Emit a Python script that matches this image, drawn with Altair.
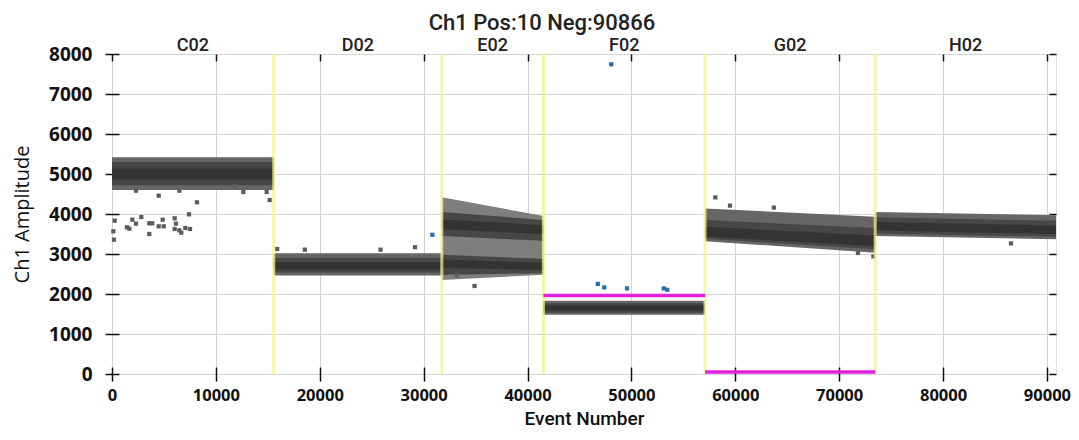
import altair as alt
import pandas as pd

# ---------------- data ----------------
wells = ["C02", "D02", "E02", "F02", "G02", "H02"]
well_start = [0, 15570, 31750, 41530, 57090, 73470]
well_end = [15570, 31750, 41530, 57090, 73470, 90876]
x_max = 90876

# droplet cluster bands: well, shading tier, amplitude low/high at start and end of well
band_well = ["C02", "C02", "C02",
             "D02", "D02", "D02",
             "E02", "E02", "E02", "E02", "E02",
             "F02", "F02", "F02",
             "G02", "G02", "G02",
             "H02", "H02", "H02"]
band_tier = ["outer", "mid", "core",
             "outer", "mid", "core",
             "sparse", "mid", "core", "mid", "core",
             "outer", "mid", "core",
             "outer", "mid", "core",
             "outer", "mid", "core"]
band_lo_start = [4600, 4720, 4860, 2460, 2540, 2610, 2350, 3450, 3620, 2480, 2650,
                 1480, 1530, 1590, 3320, 3380, 3430, 3450, 3510, 3590]
band_lo_end = [4600, 4720, 4860, 2460, 2540, 2610, 2480, 3330, 3500, 2520, 2600,
               1480, 1530, 1590, 3030, 3120, 3200, 3370, 3430, 3500]
band_hi_start = [5420, 5300, 5140, 3020, 2900, 2800, 4420, 4050, 3860, 2980, 2860,
                 1830, 1770, 1720, 4140, 3850, 3680, 4050, 3920, 3800]
band_hi_end = [5420, 5300, 5140, 3020, 2900, 2800, 3950, 3850, 3720, 2880, 2780,
               1830, 1770, 1720, 3930, 3650, 3460, 3970, 3830, 3710]

# negative outlier droplets (gray)
gray_x = [2310, 4495, 6480, 8180, 11840, 12640, 14890, 15180, 260, 130, 190, 1960, 2310,
          2820, 1440, 1670, 3590, 3880, 3590, 4495, 4880, 4980, 6030, 6160, 6030, 6480,
          6670, 7060, 7510, 7410, 15900, 18560, 25850, 29170, 33200, 34900, 58080,
          59490, 63710, 71810, 73300, 86540]
gray_y = [4583, 4458, 4583, 4292, 4692, 4550, 4550, 4350, 3833, 3567, 3358, 3858, 3758,
          3925, 3667, 3633, 3767, 3767, 3500, 3692, 3858, 3692, 3892, 3758, 3625, 3592,
          3533, 3650, 3625, 3992, 3125, 3108, 3108, 3170, 2470, 2200, 4415,
          4210, 4160, 3025, 2940, 3265]

# positive droplets (blue)
blue_x = [30840, 46770, 47390, 49580, 53120, 53450, 48060]
blue_y = [3480, 2253, 2165, 2140, 2140, 2105, 7742]

# thresholds
thr_well = ["F02", "G02"]
thr_amp = [1960, 50]

tier_names = ["sparse", "outer", "mid", "core"]
tier_colors = ["#7e7e7e", "#666666", "#474747", "#333333"]

# ---------------- tables ----------------
wdf = pd.DataFrame({"well": wells, "start": well_start, "end": well_end})
start_of = dict(zip(wells, well_start))
end_of = dict(zip(wells, well_end))

rows = []
for i, w in enumerate(band_well):
    rows.append({"band": i, "tier": band_tier[i], "x": start_of[w],
                 "lo": band_lo_start[i], "hi": band_hi_start[i]})
    rows.append({"band": i, "tier": band_tier[i], "x": end_of[w],
                 "lo": band_lo_end[i], "hi": band_hi_end[i]})
bdf = pd.DataFrame(rows)

gdf = pd.DataFrame({"x": gray_x, "y": gray_y})
pdf = pd.DataFrame({"x": blue_x, "y": blue_y})
tdf = pd.DataFrame({"well": thr_well, "amp": thr_amp,
                    "start": [start_of[w] for w in thr_well],
                    "end": [end_of[w] for w in thr_well]})
ydf = pd.DataFrame({"b": well_start[1:]})

xs = alt.Scale(domain=[0, x_max], nice=False, zero=False)
ys = alt.Scale(domain=[0, 8000], nice=False)

xticks = list(range(0, 90001, 10000))
yticks = list(range(0, 8001, 1000))

x_main = alt.Axis(values=xticks, format="d", grid=True, gridColor="#d3d3d3", gridWidth=1,
                  domain=False, ticks=True, tickColor="#111111", tickSize=14, tickWidth=1.5,
                  offset=-7, labelFont="Open Sans", labelFontSize=16.5, labelFontWeight="bold",
                  labelColor="#111111", labelPadding=6, labelOverlap=False, labelFlush=False,
                  title="Event Number", titleFont="Roboto", titleFontSize=19,
                  titleFontWeight=500, titleColor="#111111", titleBaseline="alphabetic",
                  titleY=57)
y_main = alt.Axis(values=yticks, format="d", grid=True, gridColor="#d3d3d3", gridWidth=1,
                  domain=False, ticks=True, tickColor="#111111", tickSize=14, tickWidth=1.5,
                  offset=-7, labelFont="Open Sans", labelFontSize=19, labelFontWeight="bold",
                  labelColor="#111111", labelPadding=13, labelOverlap=False, labelFlush=False,
                  title="Ch1 Amplitude", titleFont="Open Sans", titleFontSize=20,
                  titleFontWeight="normal", titleColor="#111111", titlePadding=16)
x_top = alt.Axis(orient="top", values=xticks, labels=False, grid=False, domain=False,
                 ticks=True, tickSize=7, tickColor="#111111", tickWidth=1.5, offset=-7,
                 title=None)
y_right = alt.Axis(orient="right", values=yticks, labels=False, grid=False, domain=False,
                   ticks=True, tickSize=7, tickColor="#111111", tickWidth=1.5, offset=-7,
                   title=None)

color_scale = alt.Scale(domain=tier_names, range=tier_colors)


def band_layer(tier, xaxis=None, yaxis=None):
    return alt.Chart(bdf).transform_filter(alt.datum.tier == tier).mark_area(
        interpolate="linear", opacity=1
    ).encode(
        x=alt.X("x:Q", scale=xs, axis=xaxis),
        y=alt.Y("lo:Q", scale=ys, axis=yaxis),
        y2="hi:Q",
        detail="band:N",
        color=alt.Color("tier:N", scale=color_scale, legend=None),
    )


layers = [
    band_layer("sparse", x_main, y_main),
    band_layer("outer"),
    band_layer("mid"),
    band_layer("core"),
    alt.Chart(gdf).mark_square(size=18, color="#5c5c5c", opacity=1).encode(
        x=alt.X("x:Q", scale=xs, axis=None), y=alt.Y("y:Q", scale=ys, axis=None)),
    alt.Chart(ydf).mark_rule(color="#f2f28a", strokeWidth=3, opacity=0.75).encode(
        x=alt.X("b:Q", scale=xs, axis=x_top)),
    alt.Chart(tdf).mark_rule(color="#e01fe0", strokeWidth=3.5).encode(
        x=alt.X("start:Q", scale=xs, axis=None), x2="end:Q",
        y=alt.Y("amp:Q", scale=ys, axis=y_right)),
    alt.Chart(pdf).mark_square(size=18, color="#2a6db2", opacity=1).encode(
        x=alt.X("x:Q", scale=xs, axis=None), y=alt.Y("y:Q", scale=ys, axis=None)),
    alt.Chart(wdf).transform_calculate(center="(datum.start + datum.end) / 2").mark_text(
        font="Roboto", fontSize=18, fontWeight=500, color="#222222",
        baseline="alphabetic", align="center").encode(
        x=alt.X("center:Q", scale=xs, axis=None), y=alt.value(-3), text="well:N"),
]

chart = alt.layer(*layers).resolve_axis(x="independent", y="independent").properties(
    width=944, height=320,
    autosize=alt.AutoSizeParams(type="none"),
    padding={"left": 104, "top": 46, "right": 15, "bottom": 54},
    title=alt.TitleParams("Ch1 Pos:10 Neg:90866", font="Roboto", fontSize=22,
                          fontWeight=500, color="#222222", anchor="middle",
                          frame="group", dx=-42, dy=26, offset=11, baseline="alphabetic"),
).configure_view(fill="#f4f4f4", stroke="#1a1a1a", strokeWidth=1.5
).configure(background="white")

chart.save("out.html", embed_options={"renderer": "svg", "actions": False})
